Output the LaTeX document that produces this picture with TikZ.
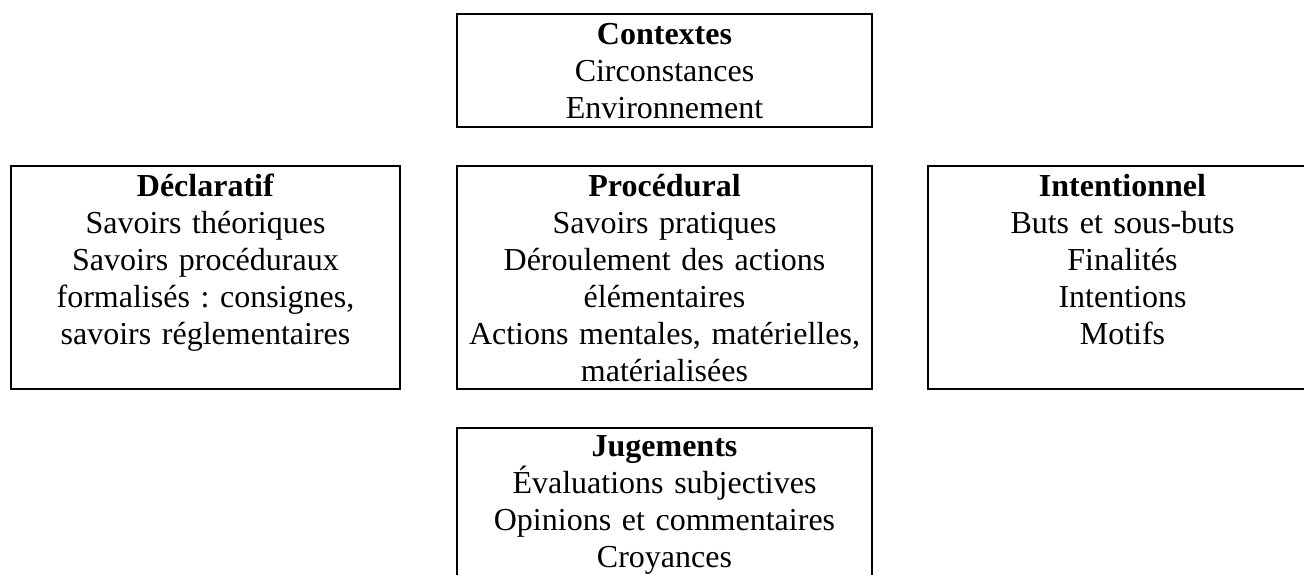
\documentclass[tikz,border=0pt]{standalone}
\usepackage{fontspec}
\setmainfont{Liberation Serif}
\usetikzlibrary{calc}
\frenchspacing
\begin{document}
\begin{tikzpicture}[x=1pt,y=-1pt,
  boxst/.style={draw, line width=1.6pt, inner sep=0pt, rectangle},
  txt/.style={text width=#1, align=center, anchor=base, inner sep=0pt,
    font=\fontsize{32}{37}\selectfont\frenchspacing}]
\useasboundingbox (0,0) rectangle (1304,574);
\clip (0,0) rectangle (1304,574);
% boxes
\node[boxst, minimum width=415pt, minimum height=113pt] (ctx) at (664.5,70.5) {};
\node[boxst, minimum width=389pt, minimum height=223pt] (dec) at (205.5,277.5) {};
\node[boxst, minimum width=415pt, minimum height=223pt] (pro) at (664.5,277.5) {};
\node[boxst, minimum width=389pt, minimum height=223pt] (int) at (1122.5,277.5) {};
\node[boxst, minimum width=415pt, minimum height=170pt] (jug) at (664.5,513) {};
% texts
\node[txt=400pt] (ctxt) at ($(ctx.north)+(0,31)$) {\textbf{Contextes}\\Circonstances\\Environnement};
\node[txt=380pt] (dect) at ($(dec.north)+(0,31)$) {\textbf{Déclaratif}\\Savoirs théoriques\\Savoirs procéduraux\\formalisés : consignes,\\savoirs réglementaires};
\node[txt=405pt] (prot) at ($(pro.north)+(0,31)$) {\textbf{Procédural}\\Savoirs pratiques\\Déroulement des actions\\élémentaires\\Actions mentales, matérielles,\\matérialisées};
\node[txt=380pt] (intt) at ($(int.north)+(0,31)$) {\textbf{Intentionnel}\\Buts et sous-buts\\Finalités\\Intentions\\Motifs};
\node[txt=405pt] (jugt) at ($(jug.north)+(0,29.5)$) {\textbf{Jugements}\\Évaluations subjectives\\Opinions et commentaires\\Croyances};
\end{tikzpicture}
\end{document}
